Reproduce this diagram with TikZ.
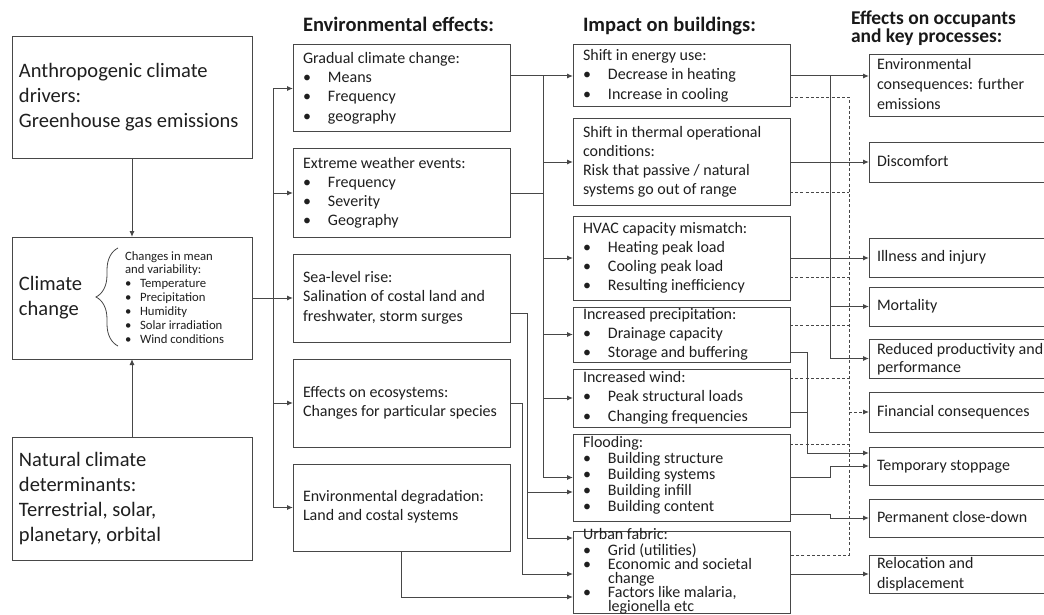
\documentclass[tikz,border=0pt]{standalone}
\usepackage{fontspec}
\setmainfont{Carlito}
\usetikzlibrary{arrows.meta,calc,decorations.pathreplacing}
\newcommand\fbig{\fontsize{20.5}{25}\selectfont}
\newcommand\fmed{\fontsize{16}{19.2}\selectfont}
\newcommand\fflood{\fontsize{16}{16}\selectfont}
\newcommand\furban{\fontsize{16}{14}\selectfont}
\newcommand\fsml{\fontsize{12.7}{13.9}\selectfont}
\newcommand\fhead{\fontsize{20.5}{15}\selectfont\bfseries}
\newcommand\fheadb{\fontsize{19.5}{14.8}\selectfont\bfseries}
\newcommand\foc{\fontsize{16}{20}\selectfont}
\newcommand\focb{\fontsize{16}{18}\selectfont}
\newcommand\bl[1]{\makebox[25pt][l]{\textbullet}#1}
\newcommand\bs[1]{\makebox[15pt][l]{\textbullet}#1}
\begin{document}
\begin{tikzpicture}[x=1pt,y=-1pt,
  box/.style={draw=black!72, line width=1pt, rectangle, outer sep=0pt, inner sep=0pt},
  cA/.style={box, minimum width=240pt},
  cB/.style={box, minimum width=217pt},
  cD/.style={box, minimum width=181pt},
  txt/.style={inner sep=0pt, outer sep=0pt, align=left, anchor=west, text=black!88},
  head/.style={inner sep=0pt, outer sep=0pt, anchor=base west, text=black!90, font=\fhead},
  line/.style={draw=black!72, line width=1pt},
  arr/.style={line, -{Latex[length=6pt,width=5pt]}},
  dsh/.style={draw=black!72, line width=0.9pt, dash pattern=on 3pt off 2.2pt},
  bracestyle/.style={draw=black!72, line width=0.8pt, decorate, decoration={brace, amplitude=22pt}}
]
\path[use as bounding box, fill=white] (0,0) rectangle (1044,615);
\clip (0,0) rectangle (1044,615);

% ---------- headings
\node[head] (h2) at (303,31.5) {Environmental effects:};
\node[head] (h3) at (583,31.5) {Impact on buildings:};
\node[inner sep=0pt, outer sep=0pt, anchor=north west, align=left, text=black!90, font=\fheadb] (h4) at (851,11) {Effects on occupants\\and key processes:};

% ---------- column 1
\node[cA, minimum height=122pt] (anthro) at (132,98) {};
\node[txt, font=\fbig] (anthroT) at ($(anthro.west)+(7,0)$) {\strut Anthropogenic climate\\drivers:\\Greenhouse gas emissions\strut};
\node[cA, minimum height=122pt] (climate) at (132,298) {};
\node[txt, font=\fbig] (climateT) at ($(climate.west)+(7,0)$) {\strut Climate\\change\strut};
\node[txt, font=\fsml] (climateL) at ($(climate.west)+(113,1)$) {\strut Changes in mean\\and variability:\\\bs{Temperature}\\\bs{Precipitation}\\\bs{Humidity}\\\bs{Solar irradiation}\\\bs{Wind conditions}\strut};
\draw[bracestyle] ($(climate.west)+(106,48)$) -- ($(climate.west)+(106,-50)$);
\node[cA, minimum height=123pt] (natural) at (132,498.5) {};
\node[txt, font=\fbig] (naturalT) at ($(natural.west)+(7,0)$) {\strut Natural climate\\determinants:\\Terrestrial, solar,\\planetary, orbital\strut};

% ---------- column 2
\node[cB, minimum height=87pt] (grad) at (401.5,88.5) {};
\node[txt, font=\fmed] (gradT) at ($(grad.west)+(10,0)$) {\strut Gradual climate change:\\\bl{Means}\\\bl{Frequency}\\\bl{geography}\strut};
\node[cB, minimum height=88pt] (extreme) at (401.5,193) {};
\node[txt, font=\fmed] (extremeT) at ($(extreme.west)+(10,0)$) {\strut Extreme weather events:\\\bl{Frequency}\\\bl{Severity}\\\bl{Geography}\strut};
\node[cB, minimum height=88pt] (sea) at (401.5,298) {};
\node[txt, font=\fmed] (seaT) at ($(sea.west)+(10,0)$) {\strut Sea-level rise:\\Salination of costal land and\\freshwater, storm surges\strut};
\node[cB, minimum height=88pt] (eco) at (401.5,403) {};
\node[txt, font=\fmed] (ecoT) at ($(eco.west)+(10,0)$) {\strut Effects on ecosystems:\\Changes for particular species\strut};
\node[cB, minimum height=87pt] (degr) at (401.5,507.5) {};
\node[txt, font=\fmed] (degrT) at ($(degr.west)+(10,0)$) {\strut Environmental degradation:\\Land and costal systems\strut};

% ---------- column 3
\node[cB, minimum height=62pt] (energy) at (681.5,76) {};
\node[txt, font=\fmed] (energyT) at ($(energy.west)+(10,0)$) {\strut Shift in energy use:\\\bl{Decrease in heating}\\\bl{Increase in cooling}\strut};
\node[cB, minimum height=86pt] (thermal) at (681.5,162) {};
\node[txt, font=\fmed] (thermalT) at ($(thermal.west)+(10,0)$) {\strut Shift in thermal operational\\conditions:\\Risk that passive / natural\\systems go out of range\strut};
\node[cB, minimum height=84pt] (hvac) at (681.5,258) {};
\node[txt, font=\fmed] (hvacT) at ($(hvac.west)+(10,0)$) {\strut HVAC capacity mismatch:\\\bl{Heating peak load}\\\bl{Cooling peak load}\\\bl{Resulting inefficiency}\strut};
\node[cB, minimum height=55pt] (precip) at (681.5,334.5) {};
\node[txt, font=\fmed] (precipT) at ($(precip.west)+(10,0)$) {\strut Increased precipitation:\\\bl{Drainage capacity}\\\bl{Storage and buffering}\strut};
\node[cB, minimum height=58pt] (wind) at (681.5,398) {};
\node[txt, font=\fmed] (windT) at ($(wind.west)+(10,0)$) {\strut Increased wind:\\\bl{Peak structural loads}\\\bl{Changing frequencies}\strut};
\node[cB, minimum height=87pt] (flood) at (681.5,477.5) {};
\node[txt, font=\fflood] (floodT) at ($(flood.west)+(10,-1)$) {\strut Flooding:\\\bl{Building structure}\\\bl{Building systems}\\\bl{Building infill}\\\bl{Building content}\strut};
\node[cB, minimum height=82pt] (urban) at (681.5,572) {};
\node[txt, font=\furban] (urbanT) at ($(urban.west)+(10,0)$) {\strut Urban fabric:\\\bl{Grid (utilities)}\\\bl{Economic and societal}\\\hspace*{25pt}change\\\bl{Factors like malaria,}\\\hspace*{25pt}legionella etc\strut};

% ---------- column 4
\node[cD, minimum height=62pt] (envc) at (959.5,86) {};
\node[txt, font=\foc] (envcT) at ($(envc.west)+(8,0)$) {\strut Environmental\\consequences: further\\emissions\strut};
\node[cD, minimum height=39pt] (discomfort) at (959.5,162.5) {};
\node[txt, font=\foc] (discomfortT) at ($(discomfort.west)+(8,0)$) {\strut Discomfort};
\node[cD, minimum height=39pt] (illness) at (959.5,257.5) {};
\node[txt, font=\foc] (illnessT) at ($(illness.west)+(8,0)$) {\strut Illness and injury};
\node[cD, minimum height=39pt] (mortality) at (959.5,306.5) {};
\node[txt, font=\foc] (mortalityT) at ($(mortality.west)+(8,0)$) {\strut Mortality};
\node[cD, minimum height=39pt] (productivity) at (959.5,358.5) {};
\node[txt, font=\focb] (productivityT) at ($(productivity.west)+(8,1)$) {\strut Reduced productivity and\\performance\strut};
\node[cD, minimum height=40pt] (financial) at (959.5,412) {};
\node[txt, font=\foc] (financialT) at ($(financial.west)+(8,0)$) {\strut Financial consequences};
\node[cD, minimum height=38pt] (temporary) at (959.5,466) {};
\node[txt, font=\foc] (temporaryT) at ($(temporary.west)+(8,0)$) {\strut Temporary stoppage};
\node[cD, minimum height=38pt] (permanent) at (959.5,518) {};
\node[txt, font=\foc] (permanentT) at ($(permanent.west)+(8,0)$) {\strut Permanent close-down};
\node[cD, minimum height=38pt] (relocation) at (959.5,574) {};
\node[txt, font=\foc] (relocationT) at ($(relocation.west)+(8,0)$) {\strut Relocation and\\displacement\strut};

% ---------- column 1 connectors
\draw[arr] (anthro.south) -- (climate.north);
\draw[arr] (natural.north) -- (climate.south);
\draw[arr] (climate.east) -- (sea.west);
\coordinate (bus1) at (273,298);
\draw[arr] (bus1) |- (grad.west);
\draw[arr] (bus1) |- (extreme.west);
\draw[arr] (bus1) |- (eco.west);
\draw[arr] (bus1) |- (degr.west);

% ---------- column 2 to column 3
\coordinate (bus2) at (543,76);
\draw[arr] ($(grad.north east)+(0,31)$) -- (energy.west);
\draw[line] (extreme.east) -- (bus2 |- extreme.east);
\draw[arr] (bus2) |- (thermal.west);
\draw[arr] (bus2) |- (hvac.west);
\draw[arr] (bus2) |- (precip.west);
\draw[arr] (bus2) |- (wind.west);
\draw[arr] (bus2) |- (flood.west);
\draw[arr] ($(sea.north east)+(0,59)$) -| ($(urban.north west)+(-46,7)$) -- ($(urban.north west)+(0,7)$);
\draw[arr] ($(flood.north west)+(-46,58)$) -- ($(flood.north west)+(0,58)$);
\draw[arr] (eco.east) -| ($(urban.north west)+(-51,43)$) -- ($(urban.north west)+(0,43)$);
\draw[arr] (degr.south) |- ($(urban.north west)+(0,66)$);

% ---------- column 3 to column 4 (solid)
\coordinate (v1) at (830,76);
\draw[arr] (energy.east) -- ($(envc.north west)+(0,21)$);
\draw[arr] (v1) |- (mortality.west);
\draw[arr] (v1) |- (productivity.west);
\draw[arr] (thermal.east) -- (thermal.east -| discomfort.west);
\draw[arr] (hvac.east) -- (hvac.east -| illness.west);
\draw[arr] ($(precip.north east)+(0,45)$) -| ($(temporary.north west)+(-62,6)$) -- ($(temporary.north west)+(0,6)$);
\draw[line] ($(wind.north east)+(0,43)$) -- ($(wind.north east)+(17,43)$);
\draw[arr] (flood.east) -| ($(temporary.west)+(-39,0)$) -- (temporary.west);
\draw[arr] ($(flood.north east)+(0,80)$) -| ($(permanent.west)+(-39,0)$) -- (permanent.west);
\draw[arr] ($(urban.north east)+(0,43)$) -- (relocation.west);

% ---------- column 3 to column 4 (dashed)
\draw[dsh] ($(energy.north east)+(0,52)$) -| ($(urban.north east)+(59,24)$) -- ($(urban.north east)+(0,24)$);
\draw[dsh] ($(thermal.north east)+(0,73)$) -- ($(thermal.north east)+(59,73)$);
\draw[dsh] ($(hvac.north east)+(0,61)$) -- ($(hvac.north east)+(59,61)$);
\draw[dsh] ($(precip.north east)+(0,18)$) -- ($(precip.north east)+(59,18)$);
\draw[dsh] ($(wind.north east)+(0,9)$) -- ($(wind.north east)+(59,9)$);
\draw[dsh] ($(flood.north east)+(0,10)$) -- ($(flood.north east)+(59,10)$);
\draw[dsh, -{Latex[length=6pt,width=5pt]}] ($(financial.west)+(-20,0)$) -- (financial.west);
\end{tikzpicture}
\end{document}
